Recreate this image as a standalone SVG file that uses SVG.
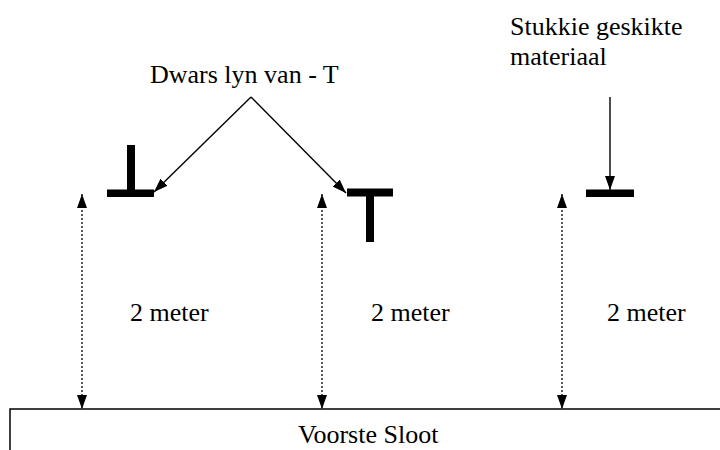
<svg xmlns="http://www.w3.org/2000/svg" width="720" height="450" viewBox="0 0 720 450">
<style>
text{font-family:"Liberation Serif","Times New Roman",serif;font-size:26px;fill:#000}
.solid{stroke:#000;stroke-width:1.4;fill:none}
.dot{stroke:#000;stroke-width:1.3;fill:none;stroke-dasharray:2 2}
.bar{fill:#000}
</style>
<defs>
<marker id="ah" markerUnits="userSpaceOnUse" markerWidth="14" markerHeight="10" refX="14" refY="5" orient="auto" viewBox="0 0 14 10">
<path d="M0,0 L14,5 L0,10 Z" fill="#000"/>
</marker>
<marker id="as" markerUnits="userSpaceOnUse" markerWidth="14" markerHeight="10" refX="0" refY="5" orient="auto" viewBox="0 0 14 10">
<path d="M14,0 L0,5 L14,10 Z" fill="#000"/>
</marker>
</defs>
<rect width="720" height="450" fill="#fff"/>
<g id="sloot">
<rect x="10" y="409" width="720" height="60" fill="none" stroke="#000" stroke-width="1.5"/>
<text x="298" y="443">Voorste Sloot</text>
</g>
<g id="t-inverted">
<rect class="bar" x="127" y="145" width="8" height="50"/>
<rect class="bar" x="107" y="189.5" width="47" height="7.5"/>
</g>
<g id="t-upright">
<rect class="bar" x="347" y="188.5" width="46" height="8"/>
<rect class="bar" x="366" y="190" width="8" height="52"/>
</g>
<g id="stukkie">
<rect class="bar" x="586" y="189.5" width="48" height="7.5"/>
</g>
<g id="label-dwars"><text x="150" y="83">Dwars lyn van - T</text></g>
<g id="label-stukkie"><text x="510" y="35">Stukkie geskikte</text><text x="510" y="65">materiaal</text></g>
<g id="label-m1"><text x="130" y="321">2 meter</text></g>
<g id="label-m2"><text x="371" y="321">2 meter</text></g>
<g id="label-m3"><text x="607" y="321">2 meter</text></g>
<g id="connectors">
<line class="solid" x1="251" y1="97" x2="154" y2="192" marker-end="url(#ah)"/>
<line class="solid" x1="251" y1="97" x2="346" y2="193" marker-end="url(#ah)"/>
<line class="solid" x1="610" y1="97" x2="610" y2="190" marker-end="url(#ah)"/>
<line class="dot" x1="82" y1="194" x2="82" y2="409" marker-start="url(#as)" marker-end="url(#ah)"/>
<line class="dot" x1="322" y1="194" x2="322" y2="409" marker-start="url(#as)" marker-end="url(#ah)"/>
<line class="dot" x1="562" y1="194" x2="562" y2="409" marker-start="url(#as)" marker-end="url(#ah)"/>
</g>
</svg>
